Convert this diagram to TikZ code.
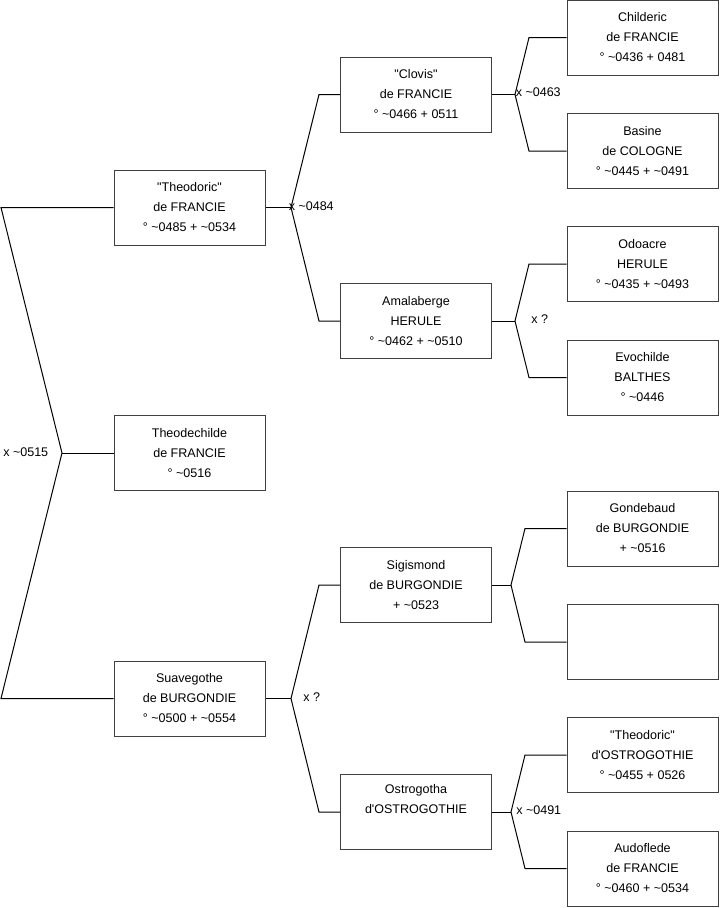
\documentclass[tikz,border=0pt]{standalone}
\usepackage{fontspec}
\setmainfont{Liberation Sans}
\newcommand{\dq}{\textquotedbl}
\newcommand{\sq}{\textquotesingle}
\begin{document}
\begin{tikzpicture}[x=0.75pt,y=-0.75pt,
  person/.style={draw=black!75, line width=0.75pt, minimum width=113.25pt, minimum height=56.25pt,
    inner sep=0pt, align=center, font=\fontsize{9.4}{15}\selectfont},
  link/.style={draw=black, line width=0.75pt},
  lbl/.style={anchor=west, inner sep=0pt, font=\fontsize{9.4}{11}\selectfont}]
\useasboundingbox (0,0) rectangle (719,908);
% generation 1
\node[person] (theo) at (189.5,207.5) {\dq Theodoric\dq\\de FRANCIE\\° \textasciitilde0485 + \textasciitilde0534};
\node[person] (theodech) at (189.5,453) {Theodechilde\\de FRANCIE\\° \textasciitilde0516};
\node[person] (suave) at (189.5,698.5) {Suavegothe\\de BURGONDIE\\° \textasciitilde0500 + \textasciitilde0554};
% generation 2
\node[person] (clovis) at (416,94.5) {\dq Clovis\dq\\de FRANCIE\\° \textasciitilde0466 + 0511};
\node[person] (amal) at (416,321) {Amalaberge\\HERULE\\° \textasciitilde0462 + \textasciitilde0510};
\node[person] (sigis) at (416,585) {Sigismond\\de BURGONDIE\\+ \textasciitilde0523};
\node[person] (ostro) at (416,812) {Ostrogotha\\d\sq OSTROGOTHIE\\\strut};
% generation 3
\node[person] (child) at (642.5,37.5) {Childeric\\de FRANCIE\\° \textasciitilde0436 + 0481};
\node[person] (basine) at (642.5,151) {Basine\\de COLOGNE\\° \textasciitilde0445 + \textasciitilde0491};
\node[person] (odo) at (642.5,264) {Odoacre\\HERULE\\° \textasciitilde0435 + \textasciitilde0493};
\node[person] (evo) at (642.5,377.5) {Evochilde\\BALTHES\\° \textasciitilde0446};
\node[person] (gonde) at (642.5,528.5) {Gondebaud\\de BURGONDIE\\+ \textasciitilde0516};
\node[person] (empty) at (642.5,642) {};
\node[person] (theoo) at (642.5,755) {\dq Theodoric\dq\\d\sq OSTROGOTHIE\\° \textasciitilde0455 + 0526};
\node[person] (audo) at (642.5,868.5) {Audoflede\\de FRANCIE\\° \textasciitilde0460 + \textasciitilde0534};
% root fork
\coordinate (r) at (62,453);
\coordinate (rt) at (1,207.5);
\coordinate (rb) at (1,698.5);
\draw[link] (theo.west) -- (rt) -- (r) -- (rb) -- (suave.west);
\draw[link] (r) -- (theodech.west);
\node[lbl] (l0) at (3,452) {x \textasciitilde0515};
% Theodoric fork
\coordinate (j1) at (291,207.5);
\coordinate (j1t) at (319,94.5);
\coordinate (j1b) at (319,321);
\draw[link] (theo.east) -- (j1);
\draw[link] (clovis.west) -- (j1t) -- (j1) -- (j1b) -- (amal.west);
\node[lbl] (l1) at (288.5,206.5) {x \textasciitilde0484};
% Suavegothe fork
\coordinate (j2) at (291,698.5);
\coordinate (j2t) at (319,585);
\coordinate (j2b) at (319,812);
\draw[link] (suave.east) -- (j2);
\draw[link] (sigis.west) -- (j2t) -- (j2) -- (j2b) -- (ostro.west);
\node[lbl] (l2) at (303,697.5) {x ?};
% Clovis fork
\coordinate (j3) at (515,94.5);
\coordinate (j3t) at (529,37.5);
\coordinate (j3b) at (529,151);
\draw[link] (clovis.east) -- (j3);
\draw[link] (child.west) -- (j3t) -- (j3) -- (j3b) -- (basine.west);
\node[lbl] (l3) at (515.5,92) {x \textasciitilde0463};
% Amalaberge fork
\coordinate (j4) at (515,321);
\coordinate (j4t) at (529,264);
\coordinate (j4b) at (529,377.5);
\draw[link] (amal.east) -- (j4);
\draw[link] (odo.west) -- (j4t) -- (j4) -- (j4b) -- (evo.west);
\node[lbl] (l4) at (531,319.5) {x ?};
% Sigismond fork
\coordinate (j5) at (511,585);
\coordinate (j5t) at (525,528.5);
\coordinate (j5b) at (525,642);
\draw[link] (sigis.east) -- (j5);
\draw[link] (gonde.west) -- (j5t) -- (j5) -- (j5b) -- (empty.west);
% Ostrogotha fork
\coordinate (j6) at (511,812);
\coordinate (j6t) at (525,755);
\coordinate (j6b) at (525,868.5);
\draw[link] (ostro.east) -- (j6);
\draw[link] (theoo.west) -- (j6t) -- (j6) -- (j6b) -- (audo.west);
\node[lbl] (l6) at (516,810.5) {x \textasciitilde0491};
\end{tikzpicture}
\end{document}
